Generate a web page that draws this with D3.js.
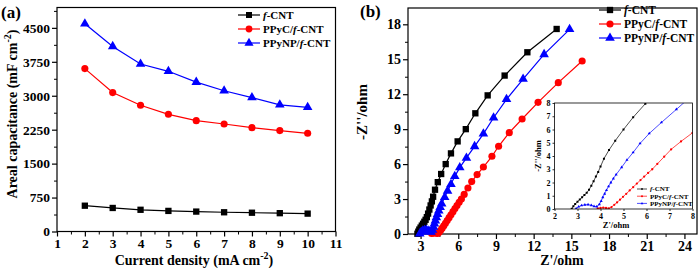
<!DOCTYPE html>
<html>
<head>
<meta charset="utf-8">
<script src="https://cdn.jsdelivr.net/npm/d3@7"></script>
<style>
  body { margin: 0; background: #fff; }
  svg text { font-family: 'Liberation Serif', 'Times New Roman', serif; font-weight: bold; }
</style>
</head>
<body>
<div id="chart"></div>
<script>
// ---- data ----
const seriesNames = ['f-CNT', 'PPyC/f-CNT', 'PPyNP/f-CNT'];
const seriesColors = ['#000000', '#ff0000', '#0000ff'];

// (a) areal capacitance vs current density
const currentDensity = [2, 3, 4, 5, 6, 7, 8, 9, 10];
const capFCNT = [570, 520, 480, 455, 440, 425, 415, 405, 395];
const capPPyC = [3600, 3070, 2790, 2590, 2450, 2375, 2295, 2230, 2170];
const capPPyNP = [4590, 4090, 3700, 3540, 3300, 3110, 2960, 2800, 2745];
const capXTicks = [1, 2, 3, 4, 5, 6, 7, 8, 9, 10, 11];
const capYTicks = [0, 750, 1500, 2250, 3000, 3750, 4500];

// (b) Nyquist plots, [Z', -Z'']
const nyqFCNT = [[2.75, 0.02], [2.82, 0.2], [2.9, 0.38], [3.0, 0.55], [3.1, 0.72], [3.2, 0.88], [3.3, 1.05],
  [3.4, 1.22], [3.5, 1.45], [3.6, 1.75], [3.7, 2.1], [3.8, 2.45], [3.9, 2.8], [4.0, 3.2], [4.15, 3.8],
  [4.37, 4.45], [4.64, 5.15], [5.0, 6.0], [5.42, 6.92], [5.95, 7.95], [6.6, 9.0], [7.36, 10.36],
  [8.34, 11.9], [9.69, 13.6], [11.5, 15.6], [13.83, 17.6]];
const nyqPPyC = [[3.88, 0.04], [4.0, 0.08], [4.12, 0.1], [4.24, 0.08], [4.36, 0.05], [4.48, 0.15], [4.6, 0.32],
  [4.72, 0.5], [4.85, 0.7], [4.98, 0.92], [5.12, 1.15], [5.27, 1.4], [5.42, 1.65], [5.58, 1.92], [5.74, 2.18],
  [5.9, 2.45], [6.07, 2.72], [6.25, 3.0], [6.47, 3.4], [6.77, 3.95], [7.07, 4.5], [7.5, 5.1], [8.0, 5.75],
  [8.68, 6.67], [9.21, 7.53], [10.06, 8.7], [11.08, 9.87], [12.35, 11.3], [13.96, 12.99], [15.86, 14.85]];
const nyqPPyNP = [[2.94, 0.03], [3.05, 0.17], [3.18, 0.27], [3.32, 0.32], [3.46, 0.33], [3.6, 0.28], [3.72, 0.2],
  [3.84, 0.18], [3.95, 0.35], [4.03, 0.6], [4.1, 0.88], [4.18, 1.15], [4.26, 1.42], [4.35, 1.7], [4.45, 2.0],
  [4.56, 2.3], [4.68, 2.6], [4.92, 3.15], [5.15, 3.7], [5.42, 4.27], [5.72, 4.95], [6.12, 5.7], [6.65, 6.53],
  [7.3, 7.52], [8.0, 8.6], [8.81, 9.98], [9.84, 11.56], [11.16, 13.3], [12.83, 15.42], [14.86, 17.57]];
const nyqXTicks = [3, 6, 9, 12, 15, 18, 21, 24];
const nyqYTicks = [0, 3, 6, 9, 12, 15, 18];
const insetXTicks = [2, 3, 4, 5, 6, 7, 8];
const insetYTicks = [0, 1, 2, 3, 4, 5, 6, 7, 8];

const symbols = [d3.symbolSquare, d3.symbolCircle, d3.symbolTriangle];

const svg = d3.select('#chart').append('svg')
  .attr('width', 698)
  .attr('height', 268);

// text with an italic "f" in names like PPyC/f-CNT
function richName(sel, name) {
  const i = name.indexOf('f-');
  if (i > 0) sel.append('tspan').text(name.slice(0, i));
  sel.append('tspan').style('font-style', 'italic').text('f');
  sel.append('tspan').text(name.slice(i + 1));
}

function drawAxes(g, x, y, opt) {
  const [x0, x1] = x.range();
  const [y0, y1] = y.range();

  // minor ticks
  if (opt.xMinor.length) {
    g.append('g')
      .attr('transform', `translate(0,${y0})`)
      .call(d3.axisBottom(x).tickValues(opt.xMinor).tickSize(opt.minorLen).tickFormat(''))
      .call(a => a.select('.domain').remove());
    g.append('g')
      .attr('transform', `translate(${x0},0)`)
      .call(d3.axisLeft(y).tickValues(opt.yMinor).tickSize(opt.minorLen).tickFormat(''))
      .call(a => a.select('.domain').remove());
  }

  const xa = g.append('g')
    .attr('transform', `translate(0,${y0})`)
    .call(d3.axisBottom(x).tickValues(opt.xTicks).tickSize(opt.tickLen).tickPadding(opt.pad).tickFormat(d3.format('d')));
  const ya = g.append('g')
    .attr('transform', `translate(${x0},0)`)
    .call(d3.axisLeft(y).tickValues(opt.yTicks).tickSize(opt.tickLen).tickPadding(opt.pad).tickFormat(d3.format('d')));
  [xa, ya].forEach(a => {
    a.select('.domain').remove();
    a.selectAll('line').attr('stroke-width', opt.border);
    a.selectAll('text')
      .attr('fill', '#000')
      .style('font-size', opt.fontSize + 'px')
      .style('font-family', "'Liberation Serif', serif")
      .style('font-weight', 'bold');
  });

  g.append('rect')
    .attr('x', x0).attr('y', y1)
    .attr('width', x1 - x0).attr('height', y0 - y1)
    .attr('fill', 'none')
    .attr('stroke', '#000')
    .attr('stroke-width', opt.border);
}

function drawSeries(g, x, y, pts, i, size, lw) {
  g.append('path')
    .datum(pts)
    .attr('fill', 'none')
    .attr('stroke', seriesColors[i])
    .attr('stroke-width', lw)
    .attr('d', d3.line().x(d => x(d[0])).y(d => y(d[1])));
  g.selectAll(null)
    .data(pts)
    .enter().append('path')
    .attr('transform', d => `translate(${x(d[0])},${y(d[1])})`)
    .attr('d', d3.symbol().type(symbols[i]).size(size))
    .attr('fill', seriesColors[i]);
}

function drawLegend(g, x, y, rowH, lineW, fontSize, size, lw) {
  seriesNames.forEach((name, i) => {
    const yy = y + i * rowH;
    g.append('line')
      .attr('x1', x).attr('x2', x + lineW)
      .attr('y1', yy).attr('y2', yy)
      .attr('stroke', seriesColors[i])
      .attr('stroke-width', lw);
    g.append('path')
      .attr('transform', `translate(${x + lineW / 2},${yy})`)
      .attr('d', d3.symbol().type(symbols[i]).size(size))
      .attr('fill', seriesColors[i]);
    const t = g.append('text')
      .attr('x', x + lineW + 3)
      .attr('y', yy)
      .attr('dy', '0.35em')
      .style('font-size', fontSize + 'px');
    richName(t, name);
  });
}

// ---- panel (a) ----
function drawPanelA() {
  const g = svg.append('g');
  const x = d3.scaleLinear().domain([1, 11]).range([57, 335.5]);
  const y = d3.scaleLinear().domain([0, 4950]).range([231.5, 7.5]);

  drawAxes(g, x, y, {
    xTicks: capXTicks,
    xMinor: d3.range(1.5, 11, 1),
    yTicks: capYTicks,
    yMinor: d3.range(375, 4950, 750),
    tickLen: 5, minorLen: 3, pad: 2, fontSize: 13.5, border: 1.2
  });

  [capFCNT, capPPyC, capPPyNP].forEach((vals, i) => {
    const pts = currentDensity.map((c, k) => [c, vals[k]]);
    drawSeries(g, x, y, pts, i, 40, 1.2);
  });

  drawLegend(g, 238, 15, 14, 22, 11, 36, 1.2);

  g.append('text')
    .attr('x', 194).attr('y', 265)
    .attr('text-anchor', 'middle')
    .style('font-size', '14px')
    .call(t => {
      t.append('tspan').text('Current density (mA cm');
      t.append('tspan').attr('dy', -6).style('font-size', '10px').text('-2');
      t.append('tspan').attr('dy', 6).text(')');
    });

  g.append('text')
    .attr('transform', 'translate(17,114) rotate(-90)')
    .attr('text-anchor', 'middle')
    .style('font-size', '14px')
    .call(t => {
      t.append('tspan').text('Areal capacitance (mF cm');
      t.append('tspan').attr('dy', -6).style('font-size', '10px').text('-2');
      t.append('tspan').attr('dy', 6).text(')');
    });

  g.append('text')
    .attr('x', 1).attr('y', 18)
    .style('font-size', '17px')
    .text('(a)');
}

// ---- panel (b) ----
function drawPanelB() {
  const g = svg.append('g');
  const x = d3.scaleLinear().domain([2, 25]).range([408, 697]);
  const y = d3.scaleLinear().domain([0, 19.4]).range([234, 8]);

  drawAxes(g, x, y, {
    xTicks: nyqXTicks,
    xMinor: d3.range(4.5, 25, 3),
    yTicks: nyqYTicks,
    yMinor: d3.range(1.5, 19.4, 3),
    tickLen: 5, minorLen: 3, pad: 2, fontSize: 14, border: 1.2
  });

  [nyqFCNT, nyqPPyC, nyqPPyNP].forEach((pts, i) => drawSeries(g, x, y, pts, i, 40, 1.2));

  drawLegend(g, 599, 10, 14, 22, 11.5, 40, 1.2);

  g.append('text')
    .attr('x', 562).attr('y', 264.5)
    .attr('text-anchor', 'middle')
    .style('font-size', '14px')
    .text("Z'/ohm");

  g.append('text')
    .attr('transform', 'translate(367,112) rotate(-90)')
    .attr('text-anchor', 'middle')
    .style('font-size', '15px')
    .text("-Z''/ohm");

  g.append('text')
    .attr('x', 360).attr('y', 17)
    .style('font-size', '17px')
    .text('(b)');

  // inset
  const ix = d3.scaleLinear().domain([2, 8]).range([554.5, 692.5]);
  const iy = d3.scaleLinear().domain([0, 8]).range([209, 103]);
  const ig = g.append('g');
  ig.append('rect')
    .attr('x', 554.5).attr('y', 103)
    .attr('width', 138).attr('height', 106)
    .attr('fill', '#fff');

  const clip = ig.append('clipPath').attr('id', 'inset-clip');
  clip.append('rect').attr('x', 554.5).attr('y', 103).attr('width', 138).attr('height', 106);
  const data = ig.append('g').attr('clip-path', 'url(#inset-clip)');
  [nyqFCNT, nyqPPyC, nyqPPyNP].forEach((pts, i) => drawSeries(data, ix, iy, pts, i, 4, 0.7));

  drawAxes(ig, ix, iy, {
    xTicks: insetXTicks, xMinor: [],
    yTicks: insetYTicks, yMinor: [],
    tickLen: 2, minorLen: 1, pad: 2, fontSize: 8, border: 0.8
  });

  drawLegend(ig, 637, 189, 7.2, 10, 7, 3, 0.7);

  ig.append('text')
    .attr('x', 616).attr('y', 228)
    .attr('text-anchor', 'middle')
    .style('font-size', '8.5px')
    .text("Z'/ohm");
  ig.append('text')
    .attr('transform', 'translate(541,156) rotate(-90)')
    .attr('text-anchor', 'middle')
    .style('font-size', '8.5px')
    .text("-Z''/ohm");
}

drawPanelA();
drawPanelB();
</script>
</body>
</html>
